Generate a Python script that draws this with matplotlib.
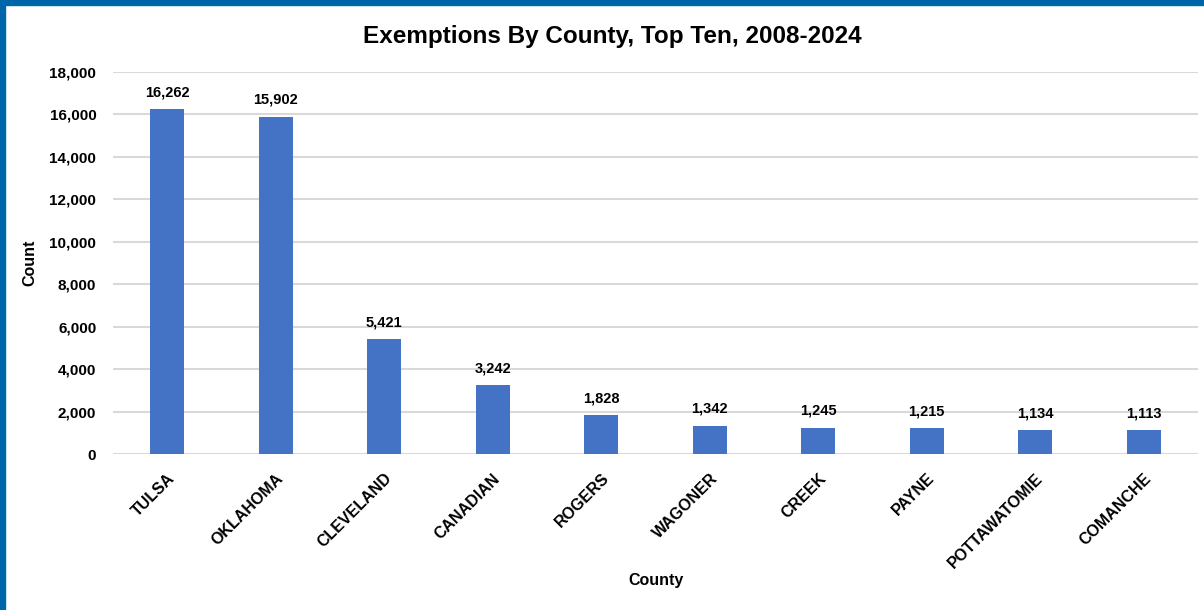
import matplotlib.pyplot as plt
from matplotlib.patches import Rectangle

counties = ["TULSA", "OKLAHOMA", "CLEVELAND", "CANADIAN", "ROGERS",
            "WAGONER", "CREEK", "PAYNE", "POTTAWATOMIE", "COMANCHE"]
counts = [16262, 15902, 5421, 3242, 1828, 1342, 1245, 1215, 1134, 1113]
y_ticks = [0, 2000, 4000, 6000, 8000, 10000, 12000, 14000, 16000, 18000]

plt.rcParams['font.family'] = ['Liberation Sans', 'DejaVu Sans']

bar_color = "#4472C4"
grid_color = "#D9D9D9"

fig = plt.figure(figsize=(12.04, 6.1), dpi=100)
ax = fig.add_axes([113 / 1204, 1 - 454 / 610, 1085 / 1204, (454 - 72) / 610])

x = range(len(counties))
ax.bar(x, counts, width=0.31, color=bar_color, zorder=3)

for xi, v in zip(x, counts):
    ax.annotate(f"{v:,}", (xi, v), xytext=(0, 7), textcoords="offset points",
                ha="center", va="bottom", fontsize=10.5, fontweight="bold", zorder=4)

ax.set_xlim(-0.5, len(counties) - 0.5)
ax.set_ylim(0, 18000)
ax.set_yticks(y_ticks)
ax.set_yticklabels([f"{t:,}" for t in y_ticks], fontsize=11, fontweight="bold")
ax.set_xticks(list(x))
ax.set_xticklabels(counties, rotation=45, ha="right", rotation_mode="anchor",
                   fontsize=11.5, fontweight="bold")
ax.tick_params(axis="both", length=0, pad=12)
ax.tick_params(axis="x", pad=12)

ax.grid(axis="y", color=grid_color, linewidth=1.5, zorder=0)
for s in ax.spines.values():
    s.set_visible(False)

fig.text(612 / 1204, 1 - 37 / 610, "Exemptions By County, Top Ten, 2008-2024",
         ha="center", va="center", fontsize=17.5, fontweight="bold")
fig.text(30 / 1204, 1 - 263 / 610, "Count", rotation=90, ha="center", va="center",
         fontsize=11.5, fontweight="bold")
fig.text(656 / 1204, 1 - 581 / 610, "County", ha="center", va="center",
         fontsize=11.5, fontweight="bold")

# blue frame along the top and left edges
frame = "#0066AA"
fig.patches.append(Rectangle((0, 1 - 5 / 610), 1, 5 / 610, transform=fig.transFigure,
                             color=frame, zorder=10))
fig.patches.append(Rectangle((0, 0), 5 / 1204, 1, transform=fig.transFigure,
                             color=frame, zorder=10))

fig.savefig("out.png", dpi=100)
